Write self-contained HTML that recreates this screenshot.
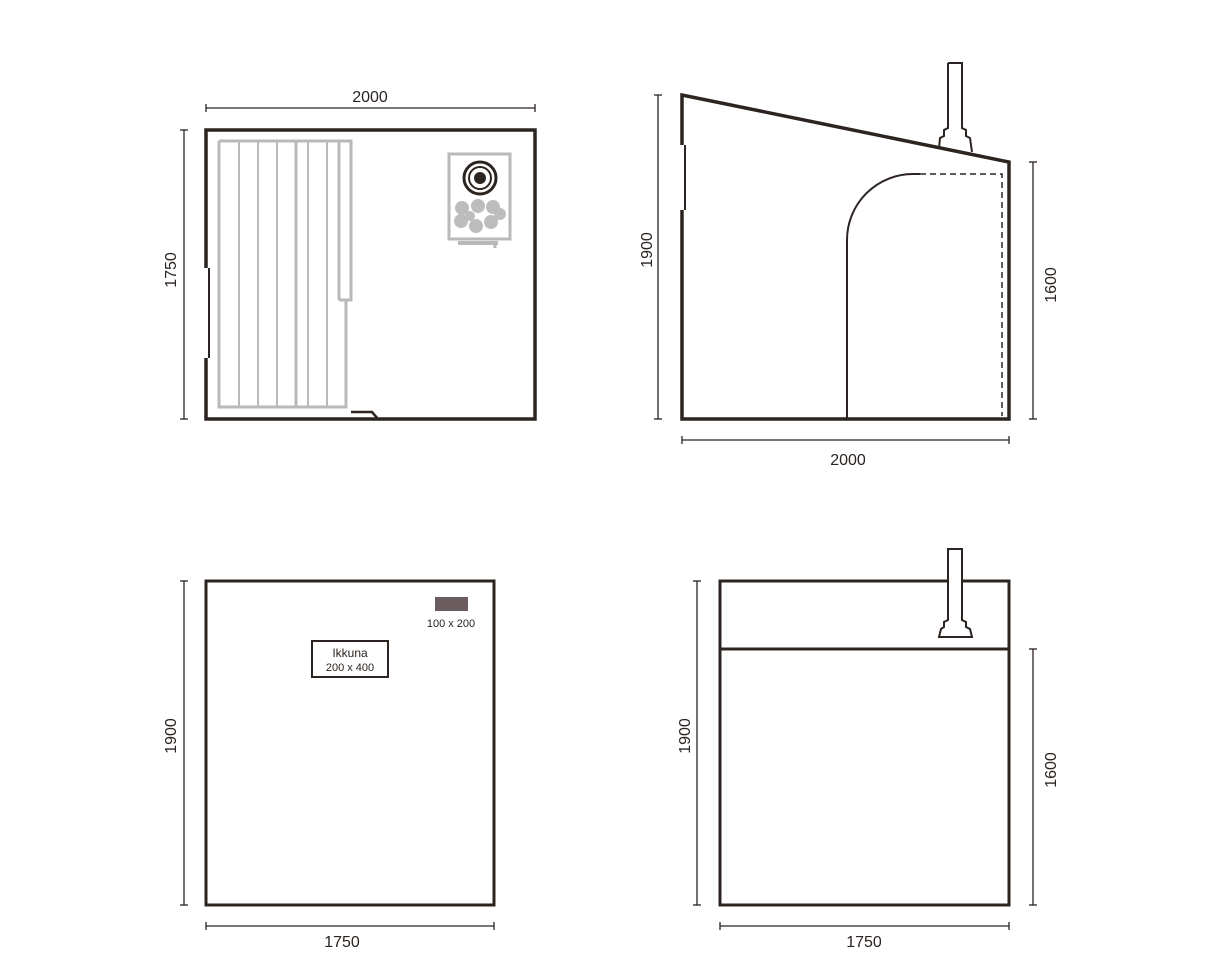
<!DOCTYPE html>
<html><head><meta charset="utf-8"><style>html,body{margin:0;background:#fff}svg{display:block}</style></head>
<body>
<svg width="1225" height="980" viewBox="0 0 1225 980" xmlns="http://www.w3.org/2000/svg" font-family="Liberation Sans, sans-serif" fill="none" stroke="#2b2420">
<!-- dims style -->
<g stroke-width="1.3">
  <line x1="206" y1="108" x2="535" y2="108"/><line x1="206" y1="104" x2="206" y2="112"/><line x1="535" y1="104" x2="535" y2="112"/>
  <line x1="184" y1="130" x2="184" y2="419"/><line x1="180" y1="130" x2="188" y2="130"/><line x1="180" y1="419" x2="188" y2="419"/>
  <line x1="658" y1="95" x2="658" y2="419"/><line x1="654" y1="95" x2="662" y2="95"/><line x1="654" y1="419" x2="662" y2="419"/>
  <line x1="1033" y1="162" x2="1033" y2="419"/><line x1="1029" y1="162" x2="1037" y2="162"/><line x1="1029" y1="419" x2="1037" y2="419"/>
  <line x1="682" y1="440" x2="1009" y2="440"/><line x1="682" y1="436" x2="682" y2="444"/><line x1="1009" y1="436" x2="1009" y2="444"/>
  <line x1="184" y1="581" x2="184" y2="905"/><line x1="180" y1="581" x2="188" y2="581"/><line x1="180" y1="905" x2="188" y2="905"/>
  <line x1="206" y1="926" x2="494" y2="926"/><line x1="206" y1="922" x2="206" y2="930"/><line x1="494" y1="922" x2="494" y2="930"/>
  <line x1="697" y1="581" x2="697" y2="905"/><line x1="693" y1="581" x2="701" y2="581"/><line x1="693" y1="905" x2="701" y2="905"/>
  <line x1="1033" y1="649" x2="1033" y2="905"/><line x1="1029" y1="649" x2="1037" y2="649"/><line x1="1029" y1="905" x2="1037" y2="905"/>
  <line x1="720" y1="926" x2="1009" y2="926"/><line x1="720" y1="922" x2="720" y2="930"/><line x1="1009" y1="922" x2="1009" y2="930"/>
</g>
<g fill="#2b2420" stroke="none" font-size="16" text-anchor="middle">
  <text x="370" y="102">2000</text>
  <text x="848" y="465">2000</text>
  <text x="342" y="947">1750</text>
  <text x="864" y="947">1750</text>
  <text transform="translate(176,270) rotate(-90)">1750</text>
  <text transform="translate(652,250) rotate(-90)">1900</text>
  <text transform="translate(1056,285) rotate(-90)">1600</text>
  <text transform="translate(176,736) rotate(-90)">1900</text>
  <text transform="translate(690,736) rotate(-90)">1900</text>
  <text transform="translate(1056,770) rotate(-90)">1600</text>
</g>
<!-- Plan view -->
<g stroke="#b9b9b9" stroke-width="3">
  <path d="M219,141 H351 V300 H339 M219,141 V407 H346 V300"/>
  <path d="M339,141 V300"/>
  <line x1="239" y1="141" x2="239" y2="407" stroke-width="2"/>
  <line x1="258" y1="141" x2="258" y2="407" stroke-width="2"/>
  <line x1="277" y1="141" x2="277" y2="407" stroke-width="2"/>
  <line x1="296" y1="141" x2="296" y2="407"/>
  <line x1="308" y1="141" x2="308" y2="407" stroke-width="2"/>
  <line x1="327" y1="141" x2="327" y2="407" stroke-width="2"/>
  <rect x="449" y="154" width="61" height="85"/>
  <line x1="458" y1="243" x2="498" y2="243" stroke-width="4"/>
  <line x1="495" y1="243" x2="495" y2="248" stroke-width="3"/>
</g>
<g fill="#bdbdbd" stroke="none">
  <circle cx="462" cy="208" r="7"/><circle cx="478" cy="206" r="7"/><circle cx="493" cy="207" r="7"/>
  <circle cx="461" cy="221" r="7"/><circle cx="476" cy="226" r="7"/><circle cx="491" cy="222" r="7"/>
  <circle cx="500" cy="214" r="6"/><circle cx="470" cy="216" r="5"/>
</g>
<circle cx="480" cy="178" r="16" stroke-width="3"/>
<circle cx="480" cy="178" r="11" stroke-width="2"/>
<circle cx="480" cy="178" r="6" fill="#2b2420" stroke="none"/>
<g stroke-width="3.5">
  <path d="M206,268 V130 H535 V419 H372 M206,358 V419 H372"/>
  <line x1="209" y1="268" x2="209" y2="358" stroke-width="2"/>
  <path d="M351,412 H372 L378,419" stroke-width="2.5"/>
</g>
<!-- Side view -->
<path d="M948,63 H962 V128 L966,130 V136 L970,138 L972,152" stroke-width="2"/>
<path d="M948,63 V128 L944,130 V136 L940,138 L939,148" stroke-width="2"/>
<path d="M682,145 V95 L1009,162 V419 H682 V210" stroke-width="3.5"/>
<line x1="685" y1="145" x2="685" y2="210" stroke-width="2"/>
<path d="M847,419 V240 A66,66 0 0 1 913,174 H920" stroke-width="2"/>
<path d="M920,174 H1002 V416" stroke-width="1.5" stroke-dasharray="6,4"/>
<!-- Front -->
<rect x="206" y="581" width="288" height="324" stroke-width="3"/>
<rect x="435" y="597" width="33" height="14" fill="#6a5c5f" stroke="none"/>
<rect x="312" y="641" width="76" height="36" stroke-width="2"/>
<g fill="#2b2420" stroke="none" text-anchor="middle">
  <text x="451" y="627" font-size="11">100 x 200</text>
  <text x="350" y="657" font-size="12">Ikkuna</text>
  <text x="350" y="671" font-size="11">200 x 400</text>
</g>
<!-- Back -->
<rect x="720" y="581" width="289" height="324" stroke-width="3"/>
<line x1="720" y1="649" x2="1009" y2="649" stroke-width="3"/>
<path d="M948,549 H962 V620 L966,622 V627 L970,629 L972,637 H939 L941,629 L944,627 V622 L948,620 Z" fill="#fff" stroke-width="2"/>
</svg>
</body></html>
